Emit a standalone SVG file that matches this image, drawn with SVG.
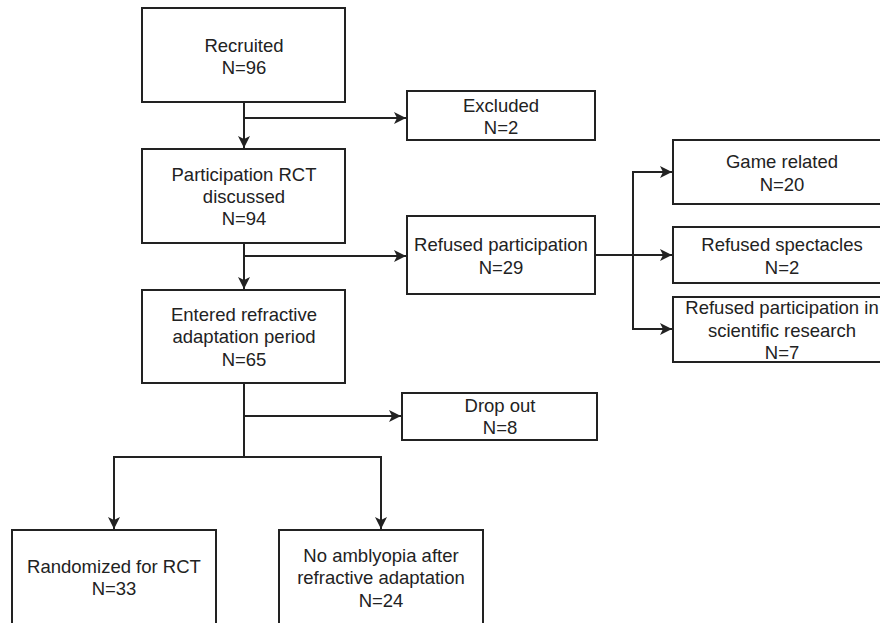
<svg xmlns="http://www.w3.org/2000/svg" width="880" height="623" viewBox="0 0 880 623">
<defs>
<style>
.box{fill:#fff;stroke:#222;stroke-width:2}
.t{font-family:"Liberation Sans",Arial,sans-serif;font-size:18.5px;fill:#222;text-anchor:middle}
.c{fill:none;stroke:#222;stroke-width:2}
</style>
<marker id="ah" markerUnits="userSpaceOnUse" markerWidth="14" markerHeight="14" viewBox="-13 -7 14 14" refX="0" refY="0" orient="auto">
<path d="M-12,-6 L0,0 L-12,6 L-9,0 Z" fill="#222"/>
</marker>
</defs>
<rect width="880" height="623" fill="#fff"/>
<g id="connectors">
<path class="c" d="M244,102 V148" marker-end="url(#ah)"/>
<path class="c" d="M244,118 H406" marker-end="url(#ah)"/>
<path class="c" d="M244,243 V289" marker-end="url(#ah)"/>
<path class="c" d="M244,256 H406" marker-end="url(#ah)"/>
<path class="c" d="M595,255 H672" marker-end="url(#ah)"/>
<path class="c" d="M633,255 V172 H672" marker-end="url(#ah)"/>
<path class="c" d="M633,255 V329 H672" marker-end="url(#ah)"/>
<path class="c" d="M244,383 V457"/>
<path class="c" d="M244,416 H401" marker-end="url(#ah)"/>
<path class="c" d="M244,457 H114 V529" marker-end="url(#ah)"/>
<path class="c" d="M244,457 H381 V529" marker-end="url(#ah)"/>
</g>
<g id="recruited">
<rect class="box" x="142" y="8" width="203" height="94"/>
<text class="t" x="244" y="52">Recruited</text>
<text class="t" x="244" y="74">N=96</text>
</g>
<g id="excluded">
<rect class="box" x="407" y="91" width="188" height="49"/>
<text class="t" x="501" y="112">Excluded</text>
<text class="t" x="501" y="134">N=2</text>
</g>
<g id="discussed">
<rect class="box" x="142" y="149" width="203" height="94"/>
<text class="t" x="244" y="181">Participation RCT</text>
<text class="t" x="244" y="203">discussed</text>
<text class="t" x="244" y="225">N=94</text>
</g>
<g id="refused">
<rect class="box" x="407" y="216" width="188" height="78"/>
<text class="t" x="501" y="251">Refused participation</text>
<text class="t" x="501" y="274">N=29</text>
</g>
<g id="game">
<rect class="box" x="673" y="140" width="218" height="64"/>
<text class="t" x="782" y="168">Game related</text>
<text class="t" x="782" y="191">N=20</text>
</g>
<g id="spectacles">
<rect class="box" x="673" y="227" width="218" height="56"/>
<text class="t" x="782" y="251">Refused spectacles</text>
<text class="t" x="782" y="274">N=2</text>
</g>
<g id="research">
<rect class="box" x="673" y="297" width="218" height="65"/>
<text class="t" x="782" y="314">Refused participation in</text>
<text class="t" x="782" y="337">scientific research</text>
<text class="t" x="782" y="359">N=7</text>
</g>
<g id="entered">
<rect class="box" x="142" y="290" width="203" height="93"/>
<text class="t" x="244" y="321">Entered refractive</text>
<text class="t" x="244" y="343">adaptation period</text>
<text class="t" x="244" y="366">N=65</text>
</g>
<g id="dropout">
<rect class="box" x="402" y="393" width="195" height="47"/>
<text class="t" x="500" y="412">Drop out</text>
<text class="t" x="500" y="434">N=8</text>
</g>
<g id="randomized">
<rect class="box" x="12" y="530" width="204" height="110"/>
<text class="t" x="114" y="573">Randomized for RCT</text>
<text class="t" x="114" y="595">N=33</text>
</g>
<g id="noamblyopia">
<rect class="box" x="279" y="530" width="204" height="110"/>
<text class="t" x="381" y="562">No amblyopia after</text>
<text class="t" x="381" y="584">refractive adaptation</text>
<text class="t" x="381" y="607">N=24</text>
</g>
</svg>
